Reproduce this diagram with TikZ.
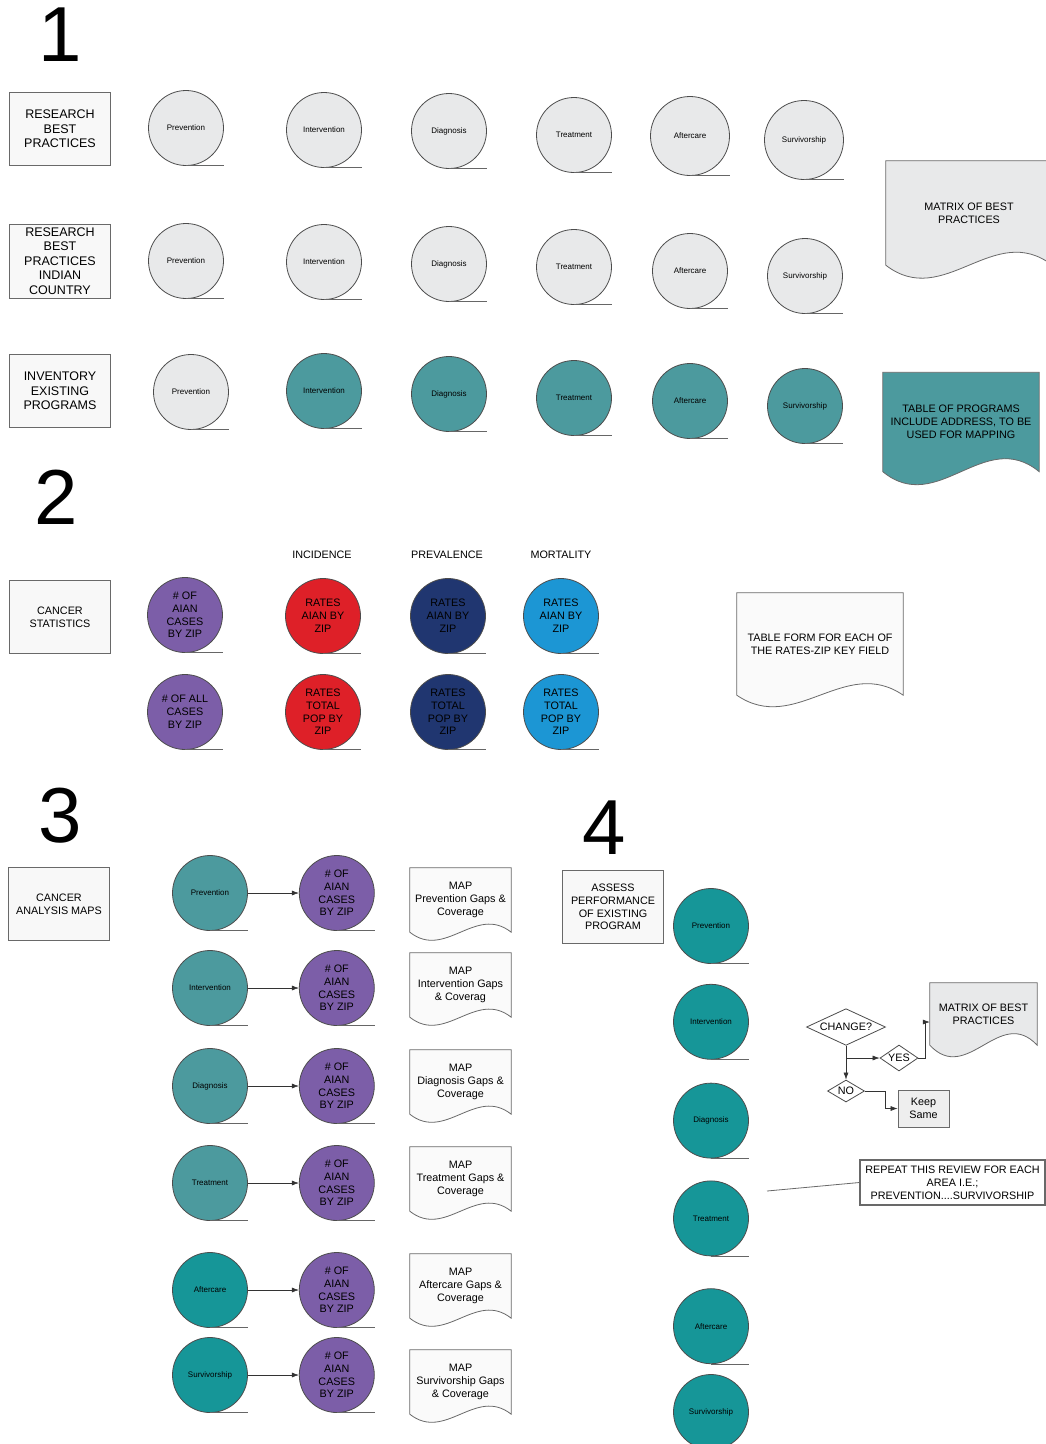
\documentclass[tikz,border=0pt]{standalone}
\usepackage{fontspec}
\setmainfont{Liberation Sans}
\usepackage{tikz}
\usetikzlibrary{shapes,arrows,arrows.meta,positioning,backgrounds,calc}

\definecolor{paleg}{RGB}{232,233,234}
\definecolor{boxfill}{RGB}{248,248,248}
\definecolor{docfill}{RGB}{250,250,250}
\definecolor{keepg}{RGB}{238,238,238}
\definecolor{edgegray}{RGB}{105,105,105}
\definecolor{tealA}{RGB}{76,154,158}
\definecolor{tealB}{RGB}{22,150,152}
\definecolor{aianpurple}{RGB}{124,94,168}
\definecolor{incred}{RGB}{222,32,40}
\definecolor{prevnavy}{RGB}{32,54,112}
\definecolor{mortblue}{RGB}{28,150,212}

\newcommand{\numfnt}{\fontsize{78}{80}\selectfont}
\newcommand{\boxfnt}{\fontsize{12.5}{14.4}\selectfont}
\newcommand{\midfnt}{\fontsize{10.8}{12.8}\selectfont}
\newcommand{\tinyfnt}{\fontsize{8}{9}\selectfont}

\tikzset{
  lbl/.style={draw=edgegray, fill=boxfill, line width=0.8pt, minimum width=101pt,
    minimum height=73pt, align=center, inner sep=0pt, font=\midfnt},
  act/.style={circle, draw=black!70, line width=0.8pt, minimum size=75pt, inner sep=0pt,
    align=center, font=\tinyfnt,
    append after command={(\tikzlastnode.south) edge[draw=black!60, line width=0.9pt]
      (\tikzlastnode.east |- \tikzlastnode.south)}},
  stat/.style={act, font=\midfnt},
  hdr/.style={font=\midfnt},
  docnode/.style={align=center, inner sep=0pt, font=\midfnt},
  docline/.style={draw=edgegray, line width=0.8pt},
  flow/.style={-{Latex[length=7pt,width=5pt]}, draw=black!80, line width=0.6pt},
  dec/.style={diamond, aspect=1.8, draw=black!70, fill=white, line width=0.8pt,
    inner sep=0pt, font=\midfnt},
  bignum/.style={font=\numfnt}
}

\begin{document}
\begin{tikzpicture}[x=1pt,y=-1pt]
\useasboundingbox (0,0) rectangle (1046,1444);

% 1: best practices and inventory
\node[bignum] (one) at (60,35) {1};
\node[lbl, font=\boxfnt] (rbp) at (60,129) {RESEARCH\\BEST\\PRACTICES};
\node[act, fill=paleg] (prev1) at (186,128) {Prevention};
\node[act, fill=paleg] (int1) at (324,130) {Intervention};
\node[act, fill=paleg] (diag1) at (449,131) {Diagnosis};
\node[act, fill=paleg] (treat1) at (574,135) {Treatment};
\node[act, fill=paleg, minimum size=79pt] (after1) at (690,136) {Aftercare};
\node[act, fill=paleg, minimum size=79pt] (surv1) at (804,140) {Survivorship};

\node[lbl, font=\boxfnt, minimum height=74pt] (rbpic) at (60,261) {RESEARCH\\BEST\\PRACTICES\\INDIAN\\COUNTRY};
\node[act, fill=paleg] (prev2) at (186,261) {Prevention};
\node[act, fill=paleg] (int2) at (324,262) {Intervention};
\node[act, fill=paleg] (diag2) at (449,264) {Diagnosis};
\node[act, fill=paleg] (treat2) at (574,267) {Treatment};
\node[act, fill=paleg] (after2) at (690,271) {Aftercare};
\node[act, fill=paleg] (surv2) at (805,276) {Survivorship};
\node[docnode, minimum width=166pt, minimum height=104pt] (mat1) at (969,213) {MATRIX OF BEST\\PRACTICES};

\node[lbl, font=\boxfnt] (inv) at (60,391) {INVENTORY\\EXISTING\\PROGRAMS};
\node[act, fill=paleg] (prev3) at (191,392) {Prevention};
\node[act, fill=tealA] (int3) at (324,391) {Intervention};
\node[act, fill=tealA] (diag3) at (449,394) {Diagnosis};
\node[act, fill=tealA] (treat3) at (574,398) {Treatment};
\node[act, fill=tealA] (after3) at (690,401) {Aftercare};
\node[act, fill=tealA] (surv3) at (805,406) {Survivorship};
\node[docnode, minimum width=156pt, minimum height=99pt] (tab1) at (961,422) {TABLE OF PROGRAMS\\INCLUDE ADDRESS, TO BE\\USED FOR MAPPING};

% 2: cancer statistics
\node[bignum] (two) at (56,497) {2};
\node[hdr] (inc) at (322,555) {INCIDENCE};
\node[hdr] (prv) at (447,555) {PREVALENCE};
\node[hdr] (mrt) at (561,555) {MORTALITY};
\node[lbl] (cstat) at (60,617) {CANCER\\STATISTICS};
\node[stat, fill=aianpurple] (aian) at (185,615) {\# OF\\AIAN\\CASES\\BY ZIP};
\node[stat, fill=incred] (rinc1) at (323,616) {RATES\\AIAN BY\\ZIP};
\node[stat, fill=prevnavy] (rprev1) at (448,616) {RATES\\AIAN BY\\ZIP};
\node[stat, fill=mortblue] (rmort1) at (561,616) {RATES\\AIAN BY\\ZIP};
\node[stat, fill=aianpurple] (allc) at (185,712) {\# OF ALL\\CASES\\BY ZIP};
\node[stat, fill=incred] (rinc2) at (323,712) {RATES\\TOTAL\\POP BY\\ZIP};
\node[stat, fill=prevnavy] (rprev2) at (448,712) {RATES\\TOTAL\\POP BY\\ZIP};
\node[stat, fill=mortblue] (rmort2) at (561,712) {RATES\\TOTAL\\POP BY\\ZIP};
\node[docnode, minimum width=166pt, minimum height=102pt] (tform) at (820,644) {TABLE FORM FOR EACH OF\\THE RATES-ZIP KEY FIELD};

% 3: analysis maps
\node[bignum] (three) at (60,816) {3};
\node[lbl] (cam) at (59,904) {CANCER\\ANALYSIS MAPS};
\node[act, fill=tealA] (mprev) at (210,893) {Prevention};
\node[stat, fill=aianpurple, right=51pt of mprev] (mcase1) {\# OF\\AIAN\\CASES\\BY ZIP};
\node[docnode, minimum width=101pt, minimum height=64pt] (map1) at (460.5,900) {MAP\\Prevention Gaps \&\\Coverage};
\node[act, fill=tealA] (mint) at (210,988) {Intervention};
\node[stat, fill=aianpurple, right=51pt of mint] (mcase2) {\# OF\\AIAN\\CASES\\BY ZIP};
\node[docnode, minimum width=101pt, minimum height=64pt] (map2) at (460.5,985) {MAP\\Intervention Gaps\\\& Coverag};
\node[act, fill=tealA] (mdiag) at (210,1086) {Diagnosis};
\node[stat, fill=aianpurple, right=51pt of mdiag] (mcase3) {\# OF\\AIAN\\CASES\\BY ZIP};
\node[docnode, minimum width=101pt, minimum height=64pt] (map3) at (460.5,1082) {MAP\\Diagnosis Gaps \&\\Coverage};
\node[act, fill=tealA] (mtreat) at (210,1183) {Treatment};
\node[stat, fill=aianpurple, right=51pt of mtreat] (mcase4) {\# OF\\AIAN\\CASES\\BY ZIP};
\node[docnode, minimum width=101pt, minimum height=64pt] (map4) at (460.5,1179) {MAP\\Treatment Gaps \&\\Coverage};
\node[act, fill=tealB] (mafter) at (210,1290) {Aftercare};
\node[stat, fill=aianpurple, right=51pt of mafter] (mcase5) {\# OF\\AIAN\\CASES\\BY ZIP};
\node[docnode, minimum width=101pt, minimum height=64pt] (map5) at (460.5,1286) {MAP\\Aftercare Gaps \&\\Coverage};
\node[act, fill=tealB] (msurv) at (210,1375) {Survivorship};
\node[stat, fill=aianpurple, right=51pt of msurv] (mcase6) {\# OF\\AIAN\\CASES\\BY ZIP};
\node[docnode, minimum width=101pt, minimum height=64pt] (map6) at (460.5,1382) {MAP\\Survivorship Gaps\\\& Coverage};
\draw[flow] (mprev) -- (mcase1);
\draw[flow] (mint) -- (mcase2);
\draw[flow] (mdiag) -- (mcase3);
\draw[flow] (mtreat) -- (mcase4);
\draw[flow] (mafter) -- (mcase5);
\draw[flow] (msurv) -- (mcase6);

% 4: assess performance
\node[bignum] (four) at (604,828) {4};
\node[lbl] (asp) at (613,907) {ASSESS\\PERFORMANCE\\OF EXISTING\\PROGRAM};
\node[act, fill=tealB] (aprev) at (711,926) {Prevention};
\node[act, fill=tealB, below=20pt of aprev] (aint) {Intervention};
\node[act, fill=tealB, below=23pt of aint] (adiag) {Diagnosis};
\node[act, fill=tealB, below=22pt of adiag] (atreat) {Treatment};
\node[act, fill=tealB, below=32pt of atreat] (aafter) {Aftercare};
\node[act, fill=tealB, below=10pt of aafter] (asurv) {Survivorship};

\node[dec, minimum width=79pt, minimum height=36pt] (chg) at (846,1027) {CHANGE?};
\node[dec, minimum width=38pt, minimum height=26pt] (yes) at (899,1058) {YES};
\node[dec, minimum width=37pt, minimum height=22pt] (no) at (846,1091) {NO};
\node[docnode, minimum width=107pt, minimum height=62pt] (mat2) at (983.5,1014) {MATRIX OF BEST\\PRACTICES};
\node[lbl, fill=keepg, minimum width=51pt, minimum height=37pt] (keep) at (923.5,1108.5) {Keep\\Same};
\node[lbl, fill=white, line width=1.3pt, minimum width=185pt, minimum height=45pt] (rep) at (952.5,1182.5) {REPEAT THIS REVIEW FOR EACH\\AREA I.E.;\\PREVENTION....SURVIVORSHIP};
\coordinate (split) at (chg.south |- yes.west);
\coordinate (repend) at (767,1191);
\draw[flow] (chg.south) -- (no.north);
\draw[flow] (split) -- (yes.west);
\draw[flow] (yes.east) -- ++(7,0) |- ($(mat2.west)+(0,8)$);
\draw[flow] (no.east) -- ++(20,0) |- (keep.west);
\draw[docline] (rep.west) -- (repend);

% document outlines behind their texts
\begin{scope}[on background layer]
\foreach \d/\col/\h in {mat1/paleg/45, tab1/tealA/45, tform/docfill/40, map1/docfill/28,
    map2/docfill/28, map3/docfill/28, map4/docfill/28, map5/docfill/28, map6/docfill/28, mat2/paleg/40}
  \draw[docline, fill=\col] (\d.north west) -- (\d.north east) -- (\d.south east)
    .. controls ($(\d.south east)!0.35!(\d.south west)+(0,-\h)$) and ($(\d.south west)!0.35!(\d.south east)+(0,\h)$) .. (\d.south west) -- cycle;
\end{scope}
\end{tikzpicture}
\end{document}
